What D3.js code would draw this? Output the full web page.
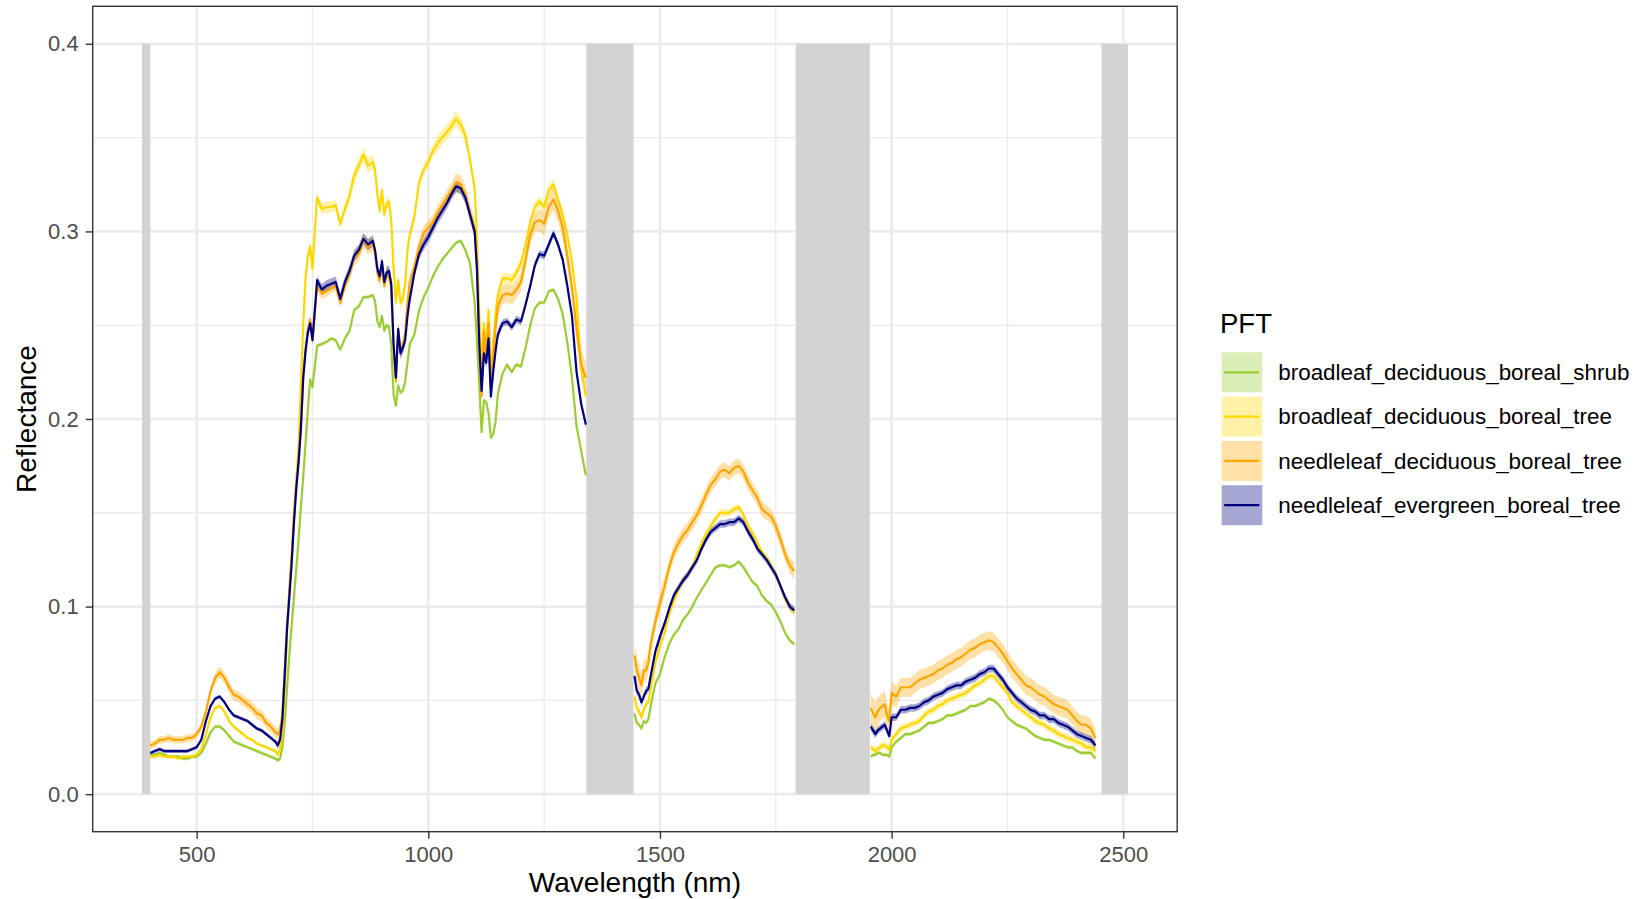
<!DOCTYPE html>
<html>
<head>
<meta charset="utf-8">
<script src="https://cdn.jsdelivr.net/npm/d3@7"></script>
<style>
  html, body { margin: 0; padding: 0; background: #ffffff; }
  svg { display: block; font-family: "Liberation Sans", Arial, Helvetica, sans-serif; }
</style>
</head>
<body>
<svg id="chart" width="1639" height="899"></svg>
<script>
// ---- Spectral sampling (nm); gaps are the water-absorption bands ----
const wavelength = [
  400,410,420,430,440,450,460,470,480,490,500,510,520,530,540,550,560,570,580,590,600,610,620,630,640,650,660,670,
  675,680,685,690,695,700,705,710,715,720,725,730,735,740,745,750,755,760,
  770,780,790,800,810,820,830,840,850,860,870,880,
  885,890,895,900,905,910,915,920,925,930,935,940,945,950,955,960,
  970,980,990,1000,1010,1020,1030,1040,1050,1060,1070,1080,1090,1100,
  1105,1110,1115,1120,1125,1130,1135,1140,1145,1150,
  1160,1170,1180,1190,1200,1210,1220,1230,1240,1250,1260,1270,1280,1290,1300,1310,1320,1330,1340,
  1445,1450,1455,1460,1465,1470,1475,1480,
  1490,1500,1510,1520,1530,1540,1550,1560,1570,1580,1590,1600,1610,1620,1630,1640,1650,1660,1670,1680,1690,1700,1710,1720,1730,1740,1750,1760,1770,1780,1790,
  1955,1960,1965,1970,1975,1980,1985,1990,1995,
  2000,2010,2020,2030,2040,2050,2060,2070,2080,2090,2100,2110,2120,2130,2140,2150,2160,2170,2180,2190,
  2200,2210,2220,2230,2240,2250,2260,2270,2280,2290,2300,2310,2320,2330,2340,2350,2360,2370,2380,2390,
  2400,2410,2420,2430,2440
];

// ---- Plant functional types ----
const pftNames = [
  "broadleaf_deciduous_boreal_shrub",
  "broadleaf_deciduous_boreal_tree",
  "needleleaf_deciduous_boreal_tree",
  "needleleaf_evergreen_boreal_tree"
];
const pftColors = ["#9ACD32", "#FFD700", "#FFA500", "#000080"];

// ---- Mean reflectance per PFT ----
const reflShrub = [
  0.021,0.021,0.022,0.021,0.020,0.020,0.020,0.019,0.019,0.020,0.020,0.022,0.027,0.033,0.036,0.036,0.034,0.031,0.028,0.027,0.026,0.025,0.024,0.023,0.022,0.021,0.020,0.019,
  0.018,0.019,0.025,0.038,0.056,0.074,0.090,0.105,0.120,0.136,0.153,0.169,0.187,0.205,0.221,0.217,0.228,0.239,
  0.240,0.241,0.243,0.242,0.237,0.243,0.247,0.258,0.260,0.265,0.265,0.266,
  0.263,0.252,0.249,0.255,0.247,0.250,0.249,0.240,0.213,0.207,0.218,0.214,0.215,0.220,0.230,0.240,
  0.245,0.258,0.265,0.270,0.276,0.281,0.285,0.288,0.291,0.294,0.295,0.290,0.283,0.262,
  0.242,0.218,0.193,0.210,0.209,0.203,0.190,0.192,0.198,0.213,
  0.224,0.229,0.225,0.229,0.228,0.238,0.250,0.259,0.262,0.262,0.268,0.269,0.264,0.256,0.241,0.222,0.196,0.183,0.170,
  0.043,0.038,0.037,0.035,0.039,0.038,0.040,0.047,
  0.059,0.064,0.073,0.080,0.085,0.088,0.093,0.096,0.100,0.105,0.109,0.113,0.117,0.121,0.122,0.122,0.121,0.122,0.124,0.121,0.117,0.113,0.111,0.106,0.103,0.101,0.097,0.092,0.086,0.082,0.080,
  0.020,0.021,0.021,0.022,0.022,0.021,0.021,0.021,0.020,
  0.025,0.028,0.030,0.032,0.032,0.033,0.034,0.036,0.038,0.038,0.039,0.040,0.042,0.042,0.043,0.044,0.045,0.047,0.047,0.048,
  0.049,0.051,0.050,0.048,0.045,0.041,0.039,0.037,0.036,0.035,0.033,0.031,0.030,0.029,0.029,0.028,0.027,0.026,0.025,0.025,
  0.023,0.022,0.022,0.022,0.019
];
const reflBroadTree = [
  0.020,0.020,0.021,0.020,0.020,0.020,0.019,0.020,0.020,0.020,0.021,0.024,0.032,0.041,0.046,0.047,0.044,0.039,0.036,0.034,0.032,0.030,0.029,0.027,0.026,0.025,0.024,0.023,
  0.021,0.024,0.032,0.055,0.085,0.110,0.128,0.150,0.168,0.185,0.218,0.250,0.275,0.287,0.292,0.280,0.300,0.318,
  0.312,0.313,0.313,0.314,0.304,0.312,0.319,0.330,0.335,0.341,0.335,0.337,
  0.333,0.320,0.311,0.322,0.309,0.315,0.316,0.306,0.280,0.262,0.274,0.262,0.264,0.272,0.290,0.298,
  0.308,0.326,0.333,0.337,0.343,0.347,0.350,0.353,0.356,0.360,0.357,0.351,0.338,0.323,
  0.297,0.255,0.228,0.251,0.235,0.258,0.222,0.240,0.255,0.266,
  0.275,0.275,0.274,0.278,0.283,0.293,0.305,0.313,0.316,0.313,0.322,0.325,0.317,0.309,0.298,0.284,0.264,0.227,0.212,
  0.052,0.046,0.044,0.041,0.045,0.048,0.049,0.056,
  0.070,0.079,0.086,0.096,0.103,0.109,0.114,0.117,0.121,0.128,0.134,0.139,0.143,0.147,0.150,0.150,0.150,0.152,0.153,0.149,0.143,0.139,0.134,0.129,0.126,0.122,0.117,0.111,0.104,0.100,0.097,
  0.025,0.024,0.023,0.024,0.025,0.026,0.026,0.025,0.024,
  0.029,0.032,0.035,0.036,0.037,0.038,0.039,0.042,0.044,0.045,0.047,0.048,0.050,0.051,0.052,0.053,0.054,0.056,0.058,0.059,
  0.061,0.063,0.063,0.060,0.057,0.054,0.049,0.047,0.045,0.043,0.041,0.039,0.038,0.037,0.035,0.034,0.032,0.031,0.030,0.029,
  0.028,0.027,0.025,0.025,0.023
];
const reflNeedleDecid = [
  0.026,0.027,0.029,0.029,0.030,0.029,0.029,0.029,0.030,0.030,0.032,0.036,0.044,0.055,0.062,0.065,0.062,0.057,0.053,0.052,0.050,0.048,0.046,0.043,0.042,0.038,0.036,0.033,
  0.032,0.034,0.043,0.066,0.090,0.107,0.125,0.146,0.164,0.178,0.196,0.222,0.238,0.248,0.253,0.242,0.256,0.271,
  0.267,0.268,0.270,0.271,0.262,0.271,0.277,0.286,0.288,0.295,0.292,0.293,
  0.289,0.278,0.274,0.282,0.271,0.277,0.277,0.270,0.238,0.220,0.247,0.236,0.239,0.245,0.262,0.273,
  0.281,0.292,0.299,0.302,0.305,0.310,0.314,0.318,0.322,0.326,0.325,0.320,0.310,0.301,
  0.281,0.240,0.212,0.247,0.234,0.251,0.216,0.232,0.248,0.260,
  0.266,0.267,0.266,0.269,0.273,0.285,0.298,0.305,0.306,0.304,0.313,0.317,0.311,0.302,0.287,0.270,0.248,0.229,0.222,
  0.074,0.066,0.062,0.058,0.066,0.066,0.070,0.080,
  0.092,0.102,0.111,0.121,0.129,0.134,0.138,0.141,0.145,0.149,0.154,0.160,0.165,0.168,0.172,0.173,0.171,0.174,0.175,0.172,0.166,0.162,0.158,0.152,0.150,0.148,0.143,0.136,0.128,0.122,0.119,
  0.046,0.043,0.041,0.044,0.046,0.047,0.048,0.042,0.039,
  0.054,0.052,0.057,0.057,0.057,0.059,0.061,0.062,0.063,0.064,0.066,0.067,0.069,0.070,0.072,0.073,0.075,0.077,0.078,0.080,
  0.081,0.082,0.081,0.078,0.075,0.071,0.067,0.064,0.061,0.058,0.057,0.055,0.053,0.052,0.050,0.048,0.047,0.046,0.045,0.042,
  0.039,0.037,0.037,0.035,0.030
];
const reflNeedleEver = [
  0.022,0.023,0.024,0.023,0.023,0.023,0.023,0.023,0.023,0.024,0.025,0.029,0.039,0.047,0.051,0.052,0.049,0.045,0.042,0.041,0.040,0.039,0.037,0.035,0.034,0.032,0.030,0.028,
  0.026,0.029,0.040,0.063,0.088,0.105,0.123,0.145,0.163,0.177,0.195,0.222,0.236,0.246,0.251,0.242,0.258,0.274,
  0.269,0.271,0.272,0.273,0.264,0.273,0.279,0.287,0.290,0.296,0.293,0.295,
  0.290,0.280,0.276,0.284,0.273,0.278,0.279,0.272,0.240,0.222,0.248,0.235,0.238,0.242,0.255,0.264,
  0.278,0.288,0.293,0.297,0.302,0.307,0.311,0.315,0.320,0.324,0.323,0.318,0.309,0.300,
  0.280,0.240,0.215,0.235,0.230,0.243,0.212,0.225,0.236,0.245,
  0.251,0.252,0.249,0.253,0.252,0.261,0.271,0.282,0.288,0.287,0.293,0.299,0.293,0.285,0.271,0.255,0.225,0.208,0.197,
  0.063,0.055,0.053,0.049,0.052,0.055,0.056,0.063,
  0.076,0.084,0.091,0.099,0.106,0.110,0.114,0.117,0.121,0.125,0.131,0.136,0.140,0.142,0.144,0.144,0.145,0.145,0.147,0.145,0.140,0.136,0.131,0.128,0.125,0.121,0.117,0.111,0.105,0.100,0.098,
  0.036,0.034,0.032,0.034,0.035,0.036,0.037,0.034,0.031,
  0.041,0.041,0.045,0.045,0.046,0.046,0.047,0.049,0.050,0.052,0.053,0.054,0.056,0.057,0.058,0.058,0.060,0.061,0.062,0.064,
  0.065,0.067,0.067,0.064,0.061,0.057,0.054,0.051,0.049,0.047,0.045,0.044,0.042,0.042,0.040,0.040,0.038,0.037,0.036,0.034,
  0.032,0.031,0.030,0.029,0.026
];

// ---- Standard error per PFT, in units of 0.001 reflectance ----
const seShrub = [
  1,1,1,1,1,1,1,1,1,1,1,1,1,1,1,1,1,1,1,1,1,1,1,1,1,1,1,1,
  1,1,1,1,1,1,1,1,1,1,1,1,1,1,1,1,1,1,
  1,1,1,1,1,1,1,1,1,1,1,1,
  1,1,1,1,1,1,1,1,1,1,1,1,1,1,1,1,
  1,1,1,1,1,1,1,1,1,1,1,1,1,1,
  1,1,1,1,1,1,1,1,1,1,
  1,1,1,1,1,1,1,1,1,1,1,1,1,1,1,1,1,1,1,
  1,1,1,1,1,1,1,1,
  1,1,1,1,1,1,1,1,1,1,1,1,1,1,1,1,1,1,1,1,1,1,1,1,1,1,1,1,1,1,1,
  1,1,1,1,1,1,1,1,1,
  1,1,1,1,1,1,1,1,1,1,1,1,1,1,1,1,1,1,1,1,
  1,1,1,1,1,1,1,1,1,1,1,1,1,1,1,1,1,1,1,1,
  1,1,1,1,1
];
const seBroadTree = [
  1,1,1,1,1,1,1,1,1,1,1,1,1,1,1,1,1,1,1,1,1,1,1,1,1,1,1,1,
  1,1,1,2,2,2,2,2,2,2,2,2,2,3,3,3,3,3,
  3,3,3,3,3,3,4,4,4,4,4,4,
  3,3,3,3,3,3,3,3,3,3,3,3,3,3,3,3,
  3,3,3,3,3,4,4,4,4,4,4,4,3,3,
  3,3,3,3,3,3,3,3,3,3,
  3,3,3,3,3,3,3,3,3,3,3,3,3,3,3,3,3,3,3,
  2,2,2,2,2,2,2,2,
  2,2,2,2,2,2,2,2,2,2,2,2,2,2,2,2,2,2,2,2,2,2,2,2,2,2,2,2,2,2,2,
  2,2,2,2,2,2,2,2,2,
  2,2,2,2,2,2,2,2,2,2,2,2,2,2,2,2,2,2,2,2,
  2,2,2,2,2,2,2,2,2,2,2,2,2,2,2,2,2,2,2,2,
  2,2,2,2,2
];
const seNeedleDecid = [
  2,2,2,2,2,2,2,2,2,2,2,2,2,2,3,3,3,3,3,3,3,3,3,3,3,3,3,3,
  3,3,3,3,3,3,3,3,3,3,3,3,3,3,3,3,3,3,
  3,3,3,3,3,3,3,4,4,4,4,4,
  4,4,4,4,4,4,4,4,4,4,4,4,4,4,4,4,
  4,4,4,4,4,4,4,4,4,5,5,5,5,5,
  5,5,5,5,5,5,5,5,5,5,
  5,5,5,5,5,5,5,5,6,6,6,6,6,6,6,6,7,8,8,
  7,7,7,6,6,6,6,5,
  5,5,5,4,4,4,4,4,4,4,4,4,4,4,4,4,4,4,4,4,4,4,4,4,4,4,4,4,4,4,5,
  8,8,8,8,7,7,7,7,6,
  6,6,5,5,5,5,5,5,5,5,5,5,5,5,5,5,5,5,5,5,
  5,5,5,5,5,5,5,5,5,5,5,5,5,5,5,5,5,5,5,5,
  5,5,5,5,5
];
const seNeedleEver = [
  1,1,1,1,1,1,1,1,1,1,1,1,1,1,1,1,1,1,1,1,1,1,1,1,1,1,1,1,
  2,2,2,2,2,2,2,2,2,2,2,2,2,2,2,2,2,2,
  3,3,3,3,3,3,3,3,3,3,3,3,
  3,3,3,3,3,3,3,3,3,3,3,3,3,3,3,3,
  3,3,3,3,3,3,3,3,3,3,3,3,3,3,
  3,3,3,3,3,3,3,3,3,3,
  2,2,2,2,2,2,2,2,2,2,2,2,2,2,2,2,2,2,2,
  2,2,2,2,2,2,2,2,
  2,2,2,2,2,2,2,2,2,2,2,2,2,2,2,2,2,2,2,2,2,2,2,2,2,2,2,2,2,2,2,
  2,2,2,2,2,2,2,2,2,
  2,2,2,2,2,2,2,2,2,2,2,2,2,2,2,2,2,2,2,2,
  2,2,2,2,2,2,2,2,2,2,2,2,2,2,2,2,2,2,2,2,
  2,2,2,2,2
];

// ---- Masked bands (shaded) ----
const bandStart = [382, 1341, 1793, 2453];
const bandEnd   = [400, 1443, 1953, 2510];
const bandBottom = 0.0;
const bandTop    = 0.4;

// ---- Axis ticks ----
const xTickValues = [500, 1000, 1500, 2000, 2500];
const yTickValues = [0.0, 0.1, 0.2, 0.3, 0.4];
const yTickLabels = ["0.0", "0.1", "0.2", "0.3", "0.4"];

// ---------------------------------------------------------------
const seriesValues = [reflShrub, reflBroadTree, reflNeedleDecid, reflNeedleEver];
const seriesSE = [seShrub, seBroadTree, seNeedleDecid, seNeedleEver];
const series = pftNames.map((name, k) => ({
  name, color: pftColors[k],
  points: wavelength.map((w, i) => ({ w, v: seriesValues[k][i], se: seriesSE[k][i] / 1000 }))
}));

const panel = { left: 92.7, right: 1177.2, top: 6.3, bottom: 831.7 };
const svg = d3.select("#chart");

// Scales with 5% padding on both axes
const xLo = d3.min([...wavelength, ...bandStart]);
const xHi = d3.max([...wavelength, ...bandEnd]);
const xPad = (xHi - xLo) * 0.05;
const x = d3.scaleLinear().domain([xLo - xPad, xHi + xPad]).range([panel.left, panel.right]);
const yPad = (bandTop - bandBottom) * 0.05;
const y = d3.scaleLinear().domain([bandBottom - yPad, bandTop + yPad]).range([panel.bottom, panel.top]);

// Background
svg.append("rect").attr("x", panel.left).attr("y", panel.top)
  .attr("width", panel.right - panel.left).attr("height", panel.bottom - panel.top)
  .attr("fill", "#ffffff");

// Grid lines: minor halfway between majors, then majors
const xMinor = d3.pairs(xTickValues).map(([a, b]) => (a + b) / 2);
const yMinor = d3.pairs(yTickValues).map(([a, b]) => (a + b) / 2);
const grid = svg.append("g").attr("stroke", "#EBEBEB").attr("fill", "none");
grid.selectAll(".xminor").data(xMinor).join("line")
  .attr("x1", d => x(d)).attr("x2", d => x(d)).attr("y1", panel.top).attr("y2", panel.bottom)
  .attr("stroke-width", 1.35);
grid.selectAll(".yminor").data(yMinor).join("line")
  .attr("y1", d => y(d)).attr("y2", d => y(d)).attr("x1", panel.left).attr("x2", panel.right)
  .attr("stroke-width", 1.35);
grid.selectAll(".xmajor").data(xTickValues).join("line")
  .attr("x1", d => x(d)).attr("x2", d => x(d)).attr("y1", panel.top).attr("y2", panel.bottom)
  .attr("stroke-width", 2.7);
grid.selectAll(".ymajor").data(yTickValues).join("line")
  .attr("y1", d => y(d)).attr("y2", d => y(d)).attr("x1", panel.left).attr("x2", panel.right)
  .attr("stroke-width", 2.7);

// Shaded bands
svg.append("g").selectAll("rect").data(bandStart.map((s, i) => [s, bandEnd[i]])).join("rect")
  .attr("x", d => x(d[0])).attr("width", d => x(d[1]) - x(d[0]))
  .attr("y", y(bandTop)).attr("height", y(bandBottom) - y(bandTop))
  .attr("fill", "#D3D3D3");

// Split each series into contiguous segments (breaks across masked bands)
function segments(points) {
  const out = [];
  let cur = [];
  points.forEach((p, i) => {
    if (i > 0 && p.w - points[i - 1].w > 50) { out.push(cur); cur = []; }
    cur.push(p);
  });
  if (cur.length) out.push(cur);
  return out;
}

const area = d3.area().x(d => x(d.w)).y0(d => y(d.v - d.se)).y1(d => y(d.v + d.se));
const line = d3.line().x(d => x(d.w)).y(d => y(d.v));

// Ribbons
const ribbons = svg.append("g");
series.forEach(s => {
  ribbons.selectAll(null).data(segments(s.points)).join("path")
    .attr("d", area).attr("fill", s.color).attr("fill-opacity", 0.35).attr("stroke", "none");
});
// Mean lines
const lines = svg.append("g");
series.forEach(s => {
  lines.selectAll(null).data(segments(s.points)).join("path")
    .attr("d", line).attr("fill", "none").attr("stroke", s.color)
    .attr("stroke-width", 2.2).attr("stroke-linejoin", "round");
});

// Panel border
svg.append("rect").attr("x", panel.left).attr("y", panel.top)
  .attr("width", panel.right - panel.left).attr("height", panel.bottom - panel.top)
  .attr("fill", "none").attr("stroke", "#333333").attr("stroke-width", 1.4);

// Axes
const xAxis = svg.append("g").attr("transform", `translate(0,${panel.bottom})`)
  .call(d3.axisBottom(x).tickValues(xTickValues).tickFormat(d3.format("d")).tickSize(7).tickPadding(8));
const yAxis = svg.append("g").attr("transform", `translate(${panel.left},0)`)
  .call(d3.axisLeft(y).tickValues(yTickValues).tickFormat((d, i) => yTickLabels[i]).tickSize(7).tickPadding(7));
[xAxis, yAxis].forEach(g => {
  g.select(".domain").remove();
  g.selectAll(".tick line").attr("stroke", "#333333").attr("stroke-width", 1.4);
  g.selectAll(".tick text").attr("fill", "#4D4D4D").attr("font-size", 22)
    .attr("font-family", "'Liberation Sans', Arial, Helvetica, sans-serif");
});

// Axis titles
svg.append("text").attr("x", (panel.left + panel.right) / 2).attr("y", 892)
  .attr("text-anchor", "middle").attr("font-size", 28).attr("fill", "#000")
  .text("Wavelength (nm)");
svg.append("text").attr("transform", `translate(36,${(panel.top + panel.bottom) / 2}) rotate(-90)`)
  .attr("text-anchor", "middle").attr("font-size", 28).attr("fill", "#000")
  .text("Reflectance");

// Legend
const legend = svg.append("g").attr("transform", "translate(1220,0)");
legend.append("text").attr("x", 0).attr("y", 333).attr("font-size", 27.5).attr("fill", "#000").text("PFT");
const keyW = 40.6, keyH = 40, keyStep = 44.3, keyTop = 352.3;
series.forEach((s, i) => {
  const g = legend.append("g").attr("transform", `translate(1.7,${keyTop + i * keyStep})`);
  g.append("rect").attr("width", keyW).attr("height", keyH).attr("fill", s.color).attr("fill-opacity", 0.35);
  g.append("line").attr("x1", 2.5).attr("x2", keyW - 3).attr("y1", keyH / 2).attr("y2", keyH / 2)
    .attr("stroke", s.color).attr("stroke-width", 2.2);
  g.append("text").attr("x", 56.6).attr("y", keyH / 2 + 7.8).attr("font-size", 22.4).attr("fill", "#000")
    .text(s.name);
});
</script>
</body>
</html>
